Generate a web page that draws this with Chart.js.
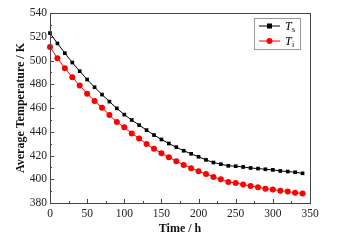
<!DOCTYPE html>
<html>
<head>
<meta charset="utf-8">
<script src="https://cdn.jsdelivr.net/npm/chart.js@4"></script>
<style>
  html, body { margin: 0; padding: 0; background: #fff; }
  #wrap { width: 345px; height: 241px; }
</style>
</head>
<body>
<div id="wrap"><canvas id="graphCanvas"></canvas></div>
<script>
// hours, every 10 h
var times = [0, 10, 20, 30, 40, 50, 60, 70, 80, 90, 100, 110, 120, 130, 140, 150, 160,
  170, 180, 190, 200, 210, 220, 230, 240, 250, 260, 270, 280, 290, 300, 310, 320, 330, 340];
var tempS = [523.1, 514.4, 506.2, 498.3, 491, 484, 477.5, 471.3, 465.4, 459.7, 454.4,
  449.9, 445.6, 441.4, 437.2, 433.5, 430.1, 427, 424, 421.4, 418.9, 416.3, 414.1, 412.7,
  411.3, 411, 410.3, 409.5, 409, 408.4, 407.9, 407, 406.5, 405.9, 405];
var tempI = [511.3, 502, 493.5, 485.9, 478.9, 472.1, 465.9, 460.3, 454.1, 448.2, 443.7,
  438.6, 434.4, 429.6, 425.6, 422, 418.6, 415.2, 412.1, 409.3, 406.8, 404.5, 402, 400,
  397.7, 396.9, 395.5, 394.4, 393.2, 392.1, 391.3, 390.4, 389.6, 388.7, 387.9];
var seriesSubs = ['s', 'i'];

var FONT = '"Liberation Serif", "Times New Roman", serif';
var AXIS_COLOR = '#444';

function toPoints(ys) {
  return times.map(function(t, i) { return {x: t, y: ys[i]}; });
}

// inward ticks, top/right frame and the legend with subscripts
var framePlugin = {
  id: 'frame',
  afterDraw: function(chart) {
    var ctx = chart.ctx;
    var a = chart.chartArea;
    var xs = chart.scales.x, ys = chart.scales.y;
    ctx.save();
    ctx.strokeStyle = AXIS_COLOR;
    ctx.lineWidth = 1;
    ctx.strokeRect(Math.round(a.left) + 0.5, Math.round(a.top) + 0.5,
        Math.round(a.right - a.left), Math.round(a.bottom - a.top));

    ctx.beginPath();
    for (var v = 0; v <= 350; v += 25) {
      var px = Math.round(xs.getPixelForValue(v)) + 0.5;
      var len = v % 50 === 0 ? 4 : 2;
      ctx.moveTo(px, a.bottom);
      ctx.lineTo(px, a.bottom - len);
    }
    for (var w = 380; w <= 540; w += 10) {
      var py = Math.round(ys.getPixelForValue(w)) + 0.5;
      var l2 = w % 20 === 0 ? 4 : 2;
      ctx.moveTo(a.left, py);
      ctx.lineTo(a.left + l2, py);
    }
    ctx.stroke();

    // legend
    var bx = Math.round(a.right) - 56, by = Math.round(a.top) + 5;
    ctx.strokeStyle = '#999';
    ctx.strokeRect(bx + 0.5, by + 0.5, 46, 31);
    chart.data.datasets.forEach(function(ds, i) {
      var cy = by + 8 + i * 15;
      ctx.strokeStyle = ds.borderColor;
      ctx.fillStyle = ds.pointBackgroundColor;
      ctx.beginPath();
      ctx.moveTo(bx + 5, cy);
      ctx.lineTo(bx + 26, cy);
      ctx.stroke();
      if (ds.pointStyle === 'rect') {
        ctx.fillRect(bx + 13, cy - 2.5, 5, 5);
      } else {
        ctx.beginPath();
        ctx.arc(bx + 15.5, cy, 3, 0, Math.PI * 2);
        ctx.fill();
      }
      ctx.fillStyle = '#000';
      ctx.textBaseline = 'alphabetic';
      ctx.font = 'italic 12px ' + FONT;
      ctx.fillText('T', bx + 31, cy + 4);
      ctx.font = '8px ' + FONT;
      ctx.fillText(seriesSubs[i], bx + 38, cy + 6);
    });
    ctx.restore();
  }
};

var ctx = document.getElementById('graphCanvas').getContext('2d');
var graph = new Chart(ctx, {
  type: 'line',
  data: {
    datasets: [{
      label: 'Ts',
      data: toPoints(tempS),
      borderColor: '#000',
      backgroundColor: '#000',
      pointBackgroundColor: '#000',
      pointBorderColor: '#000',
      pointStyle: 'rect',
      pointRadius: 2.6,
      borderWidth: 1,
      pointBorderWidth: 0,
      clip: 6,
    }, {
      label: 'Ti',
      data: toPoints(tempI),
      borderColor: '#ff0000',
      backgroundColor: '#ff0000',
      pointBackgroundColor: '#ff0000',
      pointBorderColor: '#ff0000',
      pointStyle: 'circle',
      pointRadius: 3,
      borderWidth: 1,
      pointBorderWidth: 0,
      clip: 6,
    }]
  },
  options: {
    responsive: true,
    maintainAspectRatio: false,
    animation: false,
    layout: {padding: {top: 13, right: 35, left: 0, bottom: 0}},
    plugins: {legend: {display: false}, tooltip: {enabled: false}},
    scales: {
      x: {
        type: 'linear',
        min: 0,
        max: 350,
        grid: {display: false, drawTicks: false},
        border: {display: false},
        ticks: {stepSize: 50, color: '#222', padding: 4, maxRotation: 0,
          font: {family: FONT, size: 11.5}},
        title: {display: true, text: 'Time / h', color: '#111',
          padding: {top: 0, bottom: 5}, font: {family: FONT, size: 12, weight: 'bold'}},
        afterFit: function(scale) { scale.height = 38; }
      },
      y: {
        min: 380,
        max: 540,
        grid: {display: false, drawTicks: false},
        border: {display: false},
        ticks: {stepSize: 20, color: '#222', padding: 3,
          font: {family: FONT, size: 11.5}},
        title: {display: true, text: 'Average Temperature / K', color: '#111',
          padding: {top: 14, bottom: 0}, font: {family: FONT, size: 12, weight: 'bold'}},
        afterFit: function(scale) { scale.width = 50; }
      }
    }
  },
  plugins: [framePlugin]
});
</script>
</body>
</html>
